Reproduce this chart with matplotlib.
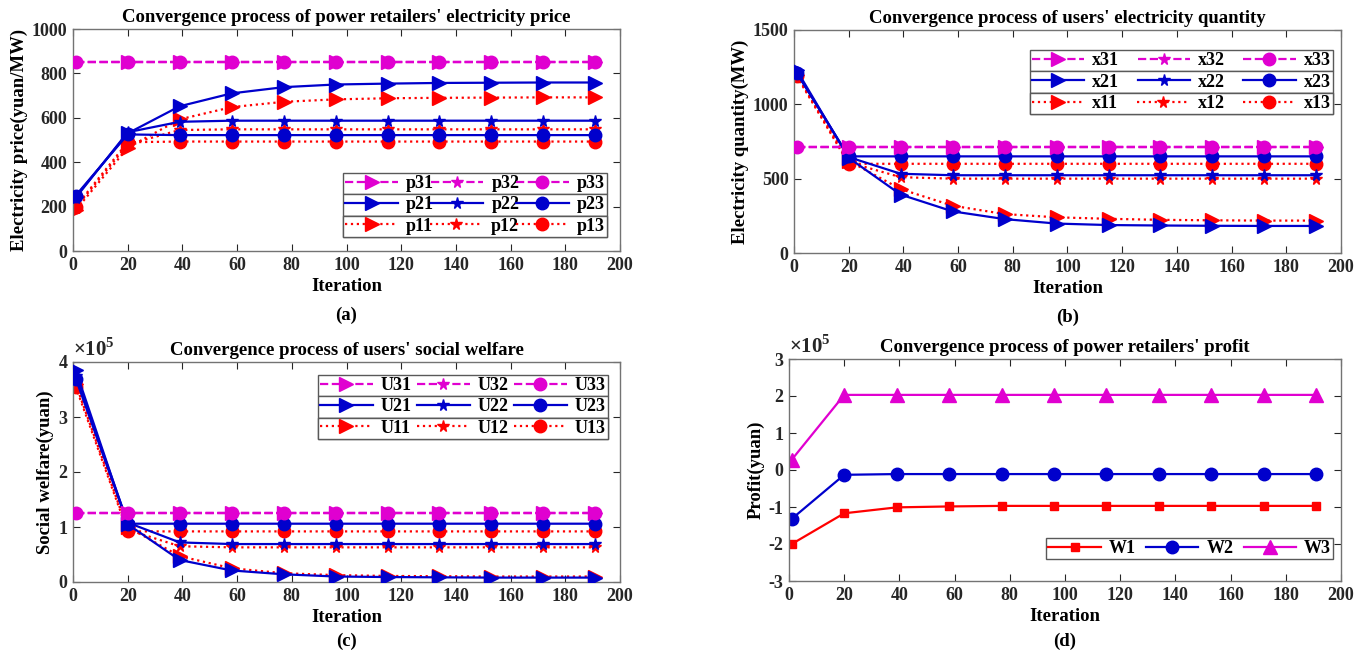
import matplotlib
matplotlib.use("Agg")
import matplotlib.pyplot as plt
from matplotlib.lines import Line2D

plt.rcParams['font.family'] = ['Liberation Serif', 'DejaVu Serif']
plt.rcParams['font.weight'] = 'bold'
plt.rcParams['mathtext.fontset'] = 'custom'
plt.rcParams['mathtext.rm'] = 'Liberation Serif'
plt.rcParams['axes.unicode_minus'] = False

# ---------------- data ----------------
iters = [1, 20, 39, 58, 77, 96, 115, 134, 153, 172, 191]

# (a) electricity price (yuan/MW)
p31 = [850, 850, 850, 850, 850, 850, 850, 850, 850, 850, 850]
p32 = [850, 850, 850, 850, 850, 850, 850, 850, 850, 850, 850]
p33 = [850, 850, 850, 850, 850, 850, 850, 850, 850, 850, 850]
p21 = [245, 530, 652, 710, 738, 750, 754, 757, 758, 759, 759]
p22 = [240, 535, 582, 587, 587, 587, 587, 587, 587, 587, 587]
p23 = [250, 525, 522, 522, 522, 522, 522, 522, 522, 522, 522]
p11 = [185, 465, 593, 648, 672, 683, 688, 690, 691, 692, 692]
p12 = [195, 480, 545, 548, 548, 548, 548, 548, 548, 548, 548]
p13 = [200, 490, 493, 493, 493, 493, 493, 493, 493, 493, 493]

# (b) electricity quantity (MW)
x31 = [710, 710, 710, 710, 710, 710, 710, 710, 710, 710, 710]
x32 = [710, 710, 710, 710, 710, 710, 710, 710, 710, 710, 710]
x33 = [710, 710, 710, 710, 710, 710, 710, 710, 710, 710, 710]
x21 = [1230, 640, 393, 280, 228, 198, 188, 185, 183, 182, 182]
x22 = [1215, 645, 533, 523, 523, 523, 523, 523, 523, 523, 523]
x23 = [1210, 650, 650, 650, 650, 650, 650, 650, 650, 650, 650]
x11 = [1200, 620, 430, 318, 262, 240, 230, 223, 220, 218, 218]
x12 = [1195, 610, 510, 500, 500, 500, 500, 500, 500, 500, 500]
x13 = [1190, 600, 600, 600, 600, 600, 600, 600, 600, 600, 600]

# (c) social welfare (x1e5 yuan)
U31 = [1.25, 1.25, 1.25, 1.25, 1.25, 1.25, 1.25, 1.25, 1.25, 1.25, 1.25]
U32 = [1.25, 1.25, 1.25, 1.25, 1.25, 1.25, 1.25, 1.25, 1.25, 1.25, 1.25]
U33 = [1.25, 1.25, 1.25, 1.25, 1.25, 1.25, 1.25, 1.25, 1.25, 1.25, 1.25]
U21 = [3.85, 1.05, 0.40, 0.21, 0.14, 0.10, 0.09, 0.085, 0.08, 0.08, 0.08]
U22 = [3.75, 1.08, 0.72, 0.69, 0.69, 0.69, 0.69, 0.69, 0.69, 0.69, 0.69]
U23 = [3.70, 1.06, 1.06, 1.06, 1.06, 1.06, 1.06, 1.06, 1.06, 1.06, 1.06]
U11 = [3.60, 1.00, 0.47, 0.25, 0.16, 0.125, 0.11, 0.105, 0.10, 0.10, 0.10]
U12 = [3.60, 0.95, 0.65, 0.63, 0.63, 0.63, 0.63, 0.63, 0.63, 0.63, 0.63]
U13 = [3.55, 0.92, 0.92, 0.92, 0.92, 0.92, 0.92, 0.92, 0.92, 0.92, 0.92]

# (d) profit (x1e5 yuan)
W1 = [-2.00, -1.17, -1.01, -0.985, -0.97, -0.97, -0.97, -0.97, -0.97, -0.97, -0.97]
W2 = [-1.32, -0.13, -0.11, -0.11, -0.11, -0.11, -0.11, -0.11, -0.11, -0.11, -0.11]
W3 = [0.28, 2.03, 2.03, 2.03, 2.03, 2.03, 2.03, 2.03, 2.03, 2.03, 2.03]

# ---------------- style ----------------
MAG = '#e000d0'
BLU = '#0000cc'
RED = '#ff0000'
FS_T = 13.5   # titles
FS_K = 13     # tick labels
FS_L = 13.5   # axis labels
FS_G = 13     # legend
W, H = 1371, 659
fig = plt.figure(figsize=(W / 100, H / 100), dpi=100)


def make_ax(l, r, t, b):
    return fig.add_axes([l / W, 1 - b / H, (r - l) / W, (b - t) / H])


def style_ax(ax, ylim, yticks, title, ylabel, caption):
    ax.set_xlim(0, 200)
    ax.set_xticks(range(0, 201, 20))
    ax.set_ylim(*ylim)
    ax.set_yticks(yticks)
    ax.tick_params(direction='in', top=True, right=True, length=5, width=0.8,
                   labelsize=FS_K, colors='0.15', pad=4)
    for lab in ax.get_xticklabels() + ax.get_yticklabels():
        lab.set_fontweight('bold')
    for s in ax.spines.values():
        s.set_color('0.45')
        s.set_linewidth(1.0)
    ax.set_title(title, fontsize=FS_T, fontweight='bold', pad=5)
    ax.set_xlabel('Iteration', fontsize=FS_L, fontweight='bold', labelpad=3)
    ax.set_ylabel(ylabel, fontsize=FS_L, fontweight='bold', labelpad=3)
    ax.text(0.5, caption[1], caption[0], transform=ax.transAxes, ha='center',
            va='center', fontsize=FS_L, fontweight='bold')


def plot_group(ax, series):
    # series listed in legend order (3 rows: magenta dashed, blue solid, red dotted)
    styles = [(MAG, '--'), (BLU, '-'), (RED, ':')]
    markers = [('>', 10), ('*', 8.5), ('o', 9)]
    handles = []
    zorders = [4, 3, 2]
    for gi, (col, ls) in enumerate(styles):
        row_h = []
        for mi, (mk, ms) in enumerate(markers):
            y = series[gi][mi]
            ax.plot(iters, y, color=col, ls=ls, lw=1.6, marker=mk, ms=ms,
                    mfc=col, mec=col, zorder=zorders[gi])
            row_h.append(Line2D([], [], color=col, ls=ls, lw=1.6, marker=mk,
                                ms=ms, mfc=col, mec=col))
        handles.append(row_h)
    return handles


def stacked_legend(ax, handles, labels, x0, x1, ytop):
    legs = []
    for hs, labs in zip(handles, labels):
        leg = ax.legend(hs, labs, ncol=3, loc='upper left',
                        bbox_to_anchor=(x0, ytop, x1 - x0, 0), mode='expand',
                        prop={'weight': 'bold', 'size': FS_G},
                        frameon=True, fancybox=False, borderpad=0.12,
                        handlelength=2.9, handletextpad=0.45, columnspacing=0.8,
                        borderaxespad=0.0, labelspacing=0.2, framealpha=1)
        leg.get_frame().set_edgecolor('0.35')
        leg.get_frame().set_linewidth(1.0)
        ax.add_artist(leg)
        legs.append(leg)
    fig.canvas.draw()
    y = ytop
    for leg in legs:
        h = leg.get_window_extent().height / ax.bbox.height
        leg.set_bbox_to_anchor((x0, y, x1 - x0, 0), transform=ax.transAxes)
        y -= h


# (a)
axa = make_ax(73, 620, 29, 251)
ha = plot_group(axa, [[p31, p32, p33], [p21, p22, p23], [p11, p12, p13]])
style_ax(axa, (0, 1000), range(0, 1001, 200),
         "Convergence process of power retailers' electricity price",
         'Electricity price(yuan/MW)', ('(a)', -0.29))
stacked_legend(axa, ha, [['p31', 'p32', 'p33'], ['p21', 'p22', 'p23'], ['p11', 'p12', 'p13']],
               0.494, 0.976, 0.352)

# (b)
axb = make_ax(794, 1341, 30, 253)
hb = plot_group(axb, [[x31, x32, x33], [x21, x22, x23], [x11, x12, x13]])
style_ax(axb, (0, 1500), range(0, 1501, 500),
         "Convergence process of users' electricity quantity",
         'Electricity quantity(MW)', ('(b)', -0.29))
stacked_legend(axb, hb, [['x31', 'x32', 'x33'], ['x21', 'x22', 'x23'], ['x11', 'x12', 'x13']],
               0.431, 0.985, 0.910)

# (c)
axc = make_ax(73, 620, 362, 582)
hc = plot_group(axc, [[U31, U32, U33], [U21, U22, U23], [U11, U12, U13]])
style_ax(axc, (0, 4), range(0, 5, 1),
         "Convergence process of users' social welfare",
         'Social welfare(yuan)', ('(c)', -0.27))
axc.text(0.0, 1.005, r'$\times10^5$', transform=axc.transAxes, ha='left',
         va='bottom', fontsize=15, color='0.15')
stacked_legend(axc, hc, [['U31', 'U32', 'U33'], ['U21', 'U22', 'U23'], ['U11', 'U12', 'U13']],
               0.448, 0.978, 0.941)

# (d)
axd = make_ax(789, 1341, 359, 581)
axd.plot(iters, W1, color=RED, lw=1.6, marker='s', ms=6, mfc=RED, mec=RED, label='W1')
axd.plot(iters, W2, color=BLU, lw=1.6, marker='o', ms=9, mfc=BLU, mec=BLU, label='W2')
axd.plot(iters, W3, color=MAG, lw=1.6, marker='^', ms=10, mfc=MAG, mec=MAG, label='W3')
style_ax(axd, (-3, 3), range(-3, 4, 1),
         "Convergence process of power retailers' profit",
         'Profit(yuan)', ('(d)', -0.27))
axd.text(0.0, 1.005, r'$\times10^5$', transform=axd.transAxes, ha='left',
         va='bottom', fontsize=15, color='0.15')
legd = axd.legend(ncol=3, loc='lower left', bbox_to_anchor=(0.466, 0.099, 0.52, 0),
                  mode='expand', prop={'weight': 'bold', 'size': FS_G}, fancybox=False,
                  borderpad=0.12, handlelength=2.9, handletextpad=0.45,
                  columnspacing=0.8, borderaxespad=0.0, framealpha=1)
legd.get_frame().set_edgecolor('0.35')
legd.get_frame().set_linewidth(1.0)

fig.savefig('out.png', dpi=100)
